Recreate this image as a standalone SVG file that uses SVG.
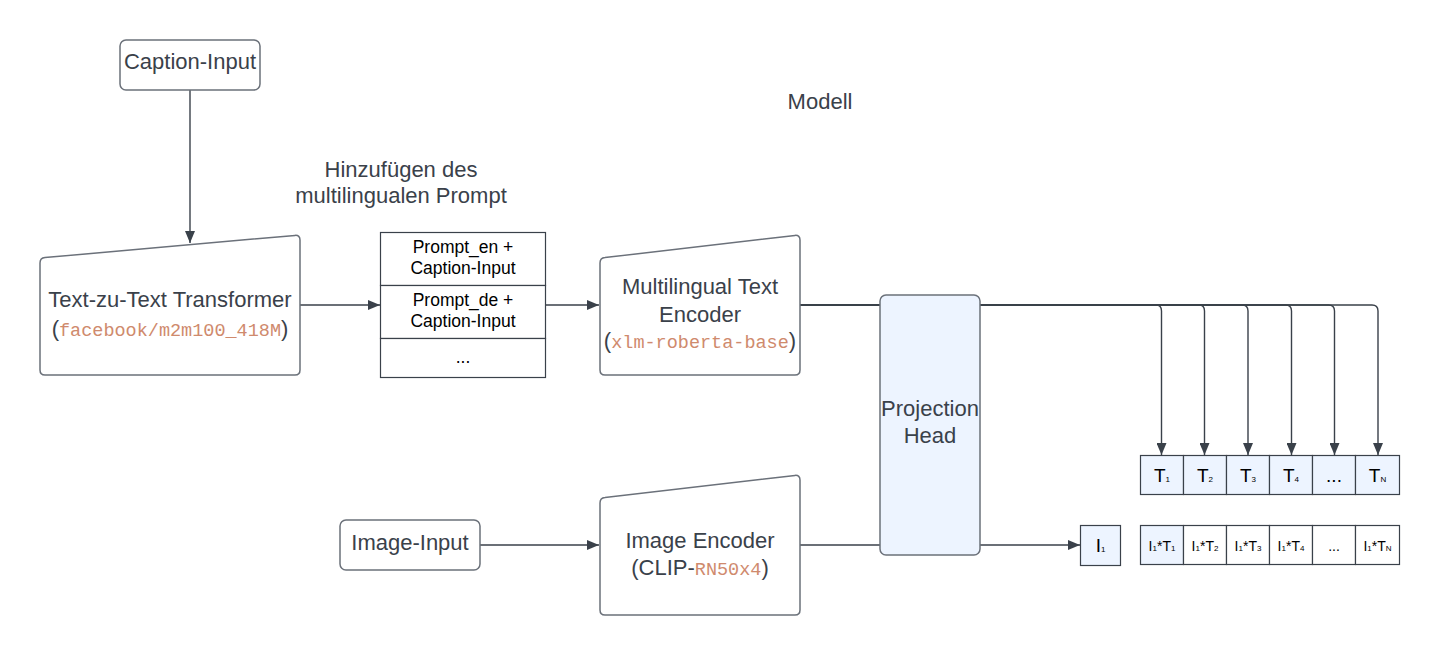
<svg xmlns="http://www.w3.org/2000/svg" width="1440" height="655" viewBox="0 0 1440 655">
<defs>
<style>
.t{font-family:"Liberation Sans",Arial,sans-serif;font-size:22px;fill:#3a414a;text-anchor:middle}
.p{font-family:"Liberation Sans",Arial,sans-serif;font-size:17.5px;fill:#000;text-anchor:middle}
.m{font-family:"Liberation Mono","DejaVu Sans Mono",monospace;font-size:18.5px;fill:#cf8a6d}
.c{font-family:"Liberation Sans",Arial,sans-serif;fill:#000;text-anchor:middle}
.node{fill:#fff;stroke:#6b717a;stroke-width:1.5}
.blue{fill:#edf4ff;stroke:#6b717a;stroke-width:1.5}
.cell{fill:#fff;stroke:#3a414a;stroke-width:1.2}
.cellb{fill:#edf4ff;stroke:#3a414a;stroke-width:1.2}
.ln{fill:none;stroke:#3a414a;stroke-width:1.4}
</style>
<marker id="ah" viewBox="0 0 12 10" refX="12" refY="5" markerWidth="12" markerHeight="10" markerUnits="userSpaceOnUse" orient="auto">
<path d="M0,0 L12,5 L0,10 Z" fill="#3a414a"/>
</marker>
</defs>
<rect width="1440" height="655" fill="#fff"/>

<text class="t" x="820" y="109">Modell</text>
<text class="t" x="401" y="177">Hinzufügen des</text>
<text class="t" x="401" y="203">multilingualen Prompt</text>

<g id="connectors">
<path class="ln" d="M190,90 L190,243" marker-end="url(#ah)"/>
<path class="ln" d="M300,305 L380,305" marker-end="url(#ah)"/>
<path class="ln" d="M545,305 L599,305" marker-end="url(#ah)"/>
<path class="ln" d="M480,545 L599,545" marker-end="url(#ah)"/>
<path class="ln" d="M800,545 L1080,545" marker-end="url(#ah)"/>
<path class="ln" d="M800,305 L1156,305 Q1161.5,305 1161.5,311 L1161.5,455" marker-end="url(#ah)"/>
<path class="ln" d="M800,305 L1199,305 Q1204.5,305 1204.5,311 L1204.5,455" marker-end="url(#ah)"/>
<path class="ln" d="M800,305 L1242,305 Q1248,305 1248,311 L1248,455" marker-end="url(#ah)"/>
<path class="ln" d="M800,305 L1285.5,305 Q1291.5,305 1291.5,311 L1291.5,455" marker-end="url(#ah)"/>
<path class="ln" d="M800,305 L1328.5,305 Q1334.5,305 1334.5,311 L1334.5,455" marker-end="url(#ah)"/>
<path class="ln" d="M800,305 L1372,305 Q1378,305 1378,311 L1378,455" marker-end="url(#ah)"/>
</g>

<g id="caption-input">
<rect class="node" x="120" y="40" width="140" height="50" rx="6"/>
<text class="t" x="190" y="69">Caption-Input</text>
</g>

<g id="text-transformer">
<path class="node" d="M40,263 Q40,258 45,257.6 L295,235.4 Q300,235 300,240 L300,370 Q300,375 295,375 L45,375 Q40,375 40,370 Z"/>
<text class="t" x="170" y="307">Text-zu-Text Transformer</text>
<text class="t" x="170" y="336">(<tspan class="m">facebook/m2m100_418M</tspan>)</text>
</g>

<g id="prompt-table">
<rect class="cell" x="380.5" y="232.5" width="165" height="53"/>
<rect class="cell" x="380.5" y="285.5" width="165" height="53"/>
<rect class="cell" x="380.5" y="338.5" width="165" height="39"/>
<text class="p" x="463" y="253">Prompt_en +</text>
<text class="p" x="463" y="274">Caption-Input</text>
<text class="p" x="463" y="306">Prompt_de +</text>
<text class="p" x="463" y="327">Caption-Input</text>
<text class="p" x="463" y="363">...</text>
</g>

<g id="text-encoder">
<path class="node" d="M600,263 Q600,258 605,257.6 L795,235.4 Q800,235 800,240 L800,370 Q800,375 795,375 L605,375 Q600,375 600,370 Z"/>
<text class="t" x="700" y="294">Multilingual Text</text>
<text class="t" x="700" y="322">Encoder</text>
<text class="t" x="700" y="348">(<tspan class="m">xlm-roberta-base</tspan>)</text>
</g>

<g id="image-input">
<rect class="node" x="340" y="520" width="140" height="50" rx="6"/>
<text class="t" x="410" y="550">Image-Input</text>
</g>

<g id="image-encoder">
<path class="node" d="M600,503 Q600,498 605,497.6 L795,475.4 Q800,475 800,480 L800,610 Q800,615 795,615 L605,615 Q600,615 600,610 Z"/>
<text class="t" x="700" y="548">Image Encoder</text>
<text class="t" x="700" y="575">(CLIP-<tspan class="m">RN50x4</tspan>)</text>
</g>

<g id="projection-head">
<rect class="blue" x="880" y="295" width="100" height="260" rx="6"/>
<text class="t" x="930" y="416">Projection</text>
<text class="t" x="930" y="443">Head</text>
</g>

<g id="text-embeddings">
<rect class="cellb" x="1140.5" y="455.5" width="43" height="39"/>
<rect class="cellb" x="1183.5" y="455.5" width="43" height="39"/>
<rect class="cellb" x="1226.5" y="455.5" width="43" height="39"/>
<rect class="cellb" x="1269.5" y="455.5" width="43" height="39"/>
<rect class="cellb" x="1312.5" y="455.5" width="43" height="39"/>
<rect class="cellb" x="1355.5" y="455.5" width="44" height="39"/>
<text class="c" x="1162" y="482" font-size="19">T<tspan font-size="8">1</tspan></text>
<text class="c" x="1205" y="482" font-size="19">T<tspan font-size="8">2</tspan></text>
<text class="c" x="1248" y="482" font-size="19">T<tspan font-size="8">3</tspan></text>
<text class="c" x="1291" y="482" font-size="19">T<tspan font-size="8">4</tspan></text>
<text class="c" x="1334" y="482" font-size="19">...</text>
<text class="c" x="1377.5" y="482" font-size="19">T<tspan font-size="8">N</tspan></text>
</g>

<g id="image-embedding">
<rect class="cellb" x="1080.5" y="525.5" width="40" height="40"/>
<text class="c" x="1100.5" y="552" font-size="19">I<tspan font-size="8">1</tspan></text>
</g>

<g id="similarity">
<rect class="cellb" x="1140.5" y="525.5" width="43" height="39"/>
<rect class="cell" x="1183.5" y="525.5" width="43" height="39"/>
<rect class="cell" x="1226.5" y="525.5" width="43" height="39"/>
<rect class="cell" x="1269.5" y="525.5" width="43" height="39"/>
<rect class="cell" x="1312.5" y="525.5" width="43" height="39"/>
<rect class="cell" x="1355.5" y="525.5" width="44" height="39"/>
<text class="c" x="1162" y="551" font-size="14">I<tspan font-size="8">1</tspan>*T<tspan font-size="8">1</tspan></text>
<text class="c" x="1205" y="551" font-size="14">I<tspan font-size="8">1</tspan>*T<tspan font-size="8">2</tspan></text>
<text class="c" x="1248" y="551" font-size="14">I<tspan font-size="8">1</tspan>*T<tspan font-size="8">3</tspan></text>
<text class="c" x="1291" y="551" font-size="14">I<tspan font-size="8">1</tspan>*T<tspan font-size="8">4</tspan></text>
<text class="c" x="1334" y="551" font-size="14">...</text>
<text class="c" x="1377.5" y="551" font-size="14">I<tspan font-size="8">1</tspan>*T<tspan font-size="8">N</tspan></text>
</g>
</svg>
